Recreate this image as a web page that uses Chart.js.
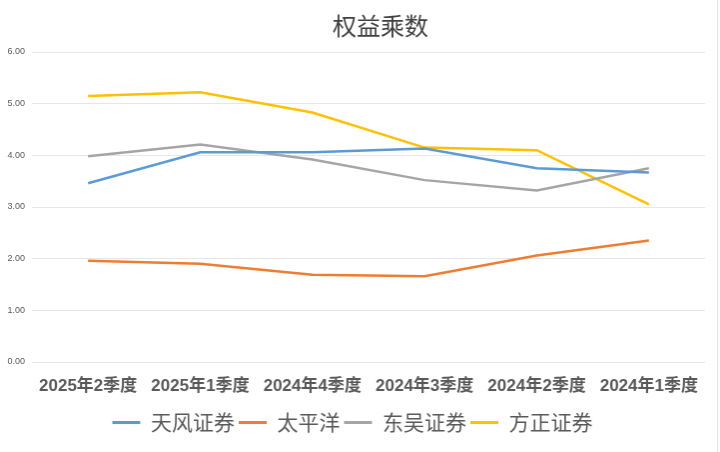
<!DOCTYPE html>
<html>
<head>
<meta charset="utf-8">
<script src="https://cdn.jsdelivr.net/npm/chart.js@4.4.1/dist/chart.umd.min.js"></script>
<style>
  html, body { margin: 0; padding: 0; background: #fff; }
  #chart { display: block; border-right: 1px solid #e3e3e3; }
</style>
</head>
<body>
<canvas id="chart" width="718" height="452"></canvas>
<script>
// quarters, newest first as in the source sheet
const quarters = ["2025年2季度", "2025年1季度", "2024年4季度", "2024年3季度", "2024年2季度", "2024年1季度"];

// equity multiplier per broker
const tianfeng = [3.46, 4.06, 4.06, 4.13, 3.75, 3.67];
const taipingyang = [1.96, 1.90, 1.69, 1.66, 2.06, 2.35];
const dongwu = [3.98, 4.21, 3.92, 3.52, 3.32, 3.75];
const fangzheng = [5.15, 5.22, 4.83, 4.15, 4.10, 3.05];

const yTicks = [0, 1, 2, 3, 4, 5, 6];

const textGrey = "#595959";

// title drawn by hand so it can sit slightly right of center like the original
const titlePlugin = {
    id: "sheetTitle",
    afterDraw(chart) {
        const c = chart.ctx;
        c.save();
        c.font = "24px 'Noto Sans CJK SC'";
        c.fillStyle = "#404040";
        c.textAlign = "center";
        c.textBaseline = "middle";
        c.fillText("权益乘数", 381, 26);
        c.restore();
    }
};

const makeSet = (label, data, color) => ({
    label: label,
    data: data,
    borderColor: color,
    backgroundColor: color,
    borderWidth: 2.5,
    pointRadius: 0,
    tension: 0,
    fill: false
});

const ctx = document.getElementById("chart").getContext("2d");

new Chart(ctx, {
    type: "line",
    data: {
        labels: quarters,
        datasets: [
            makeSet("天风证券", tianfeng, "#5B9BD5"),
            makeSet("太平洋", taipingyang, "#ED7D31"),
            makeSet("东吴证券", dongwu, "#A5A5A5"),
            makeSet("方正证券", fangzheng, "#FFC000")
        ]
    },
    options: {
        responsive: false,
        animation: false,
        layout: {
            padding: { top: 52, right: 12, bottom: 9, left: 0 }
        },
        scales: {
            x: {
                offset: true,
                grid: { display: false },
                border: { display: false },
                ticks: {
                    color: textGrey,
                    padding: 6,
                    maxRotation: 0,
                    autoSkip: false,
                    font: { family: "'Liberation Sans', 'Noto Sans CJK SC'", size: 17, weight: "bold" }
                },
                afterFit: s => { s.height = 46; }
            },
            y: {
                min: 0,
                max: 6,
                afterBuildTicks: s => { s.ticks = yTicks.map(v => ({ value: v })); },
                grid: { color: "#e6e6e6", lineWidth: 1, drawTicks: false },
                border: { display: false },
                ticks: {
                    color: textGrey,
                    padding: 7,
                    font: { family: "'Liberation Sans'", size: 9 },
                    callback: v => v.toFixed(2)
                },
                afterFit: s => { s.width = 32; }
            }
        },
        plugins: {
            title: { display: false },
            tooltip: { enabled: false },
            legend: {
                position: "bottom",
                labels: {
                    color: textGrey,
                    boxWidth: 28,
                    boxHeight: 3,
                    padding: 4,
                    font: { family: "'Noto Sans CJK SC'", size: 21 },
                    generateLabels: chart => Chart.defaults.plugins.legend.labels.generateLabels(chart)
                        .map(item => Object.assign(item, { lineWidth: 0 }))
                }
            }
        }
    },
    plugins: [titlePlugin]
});
</script>
</body>
</html>
